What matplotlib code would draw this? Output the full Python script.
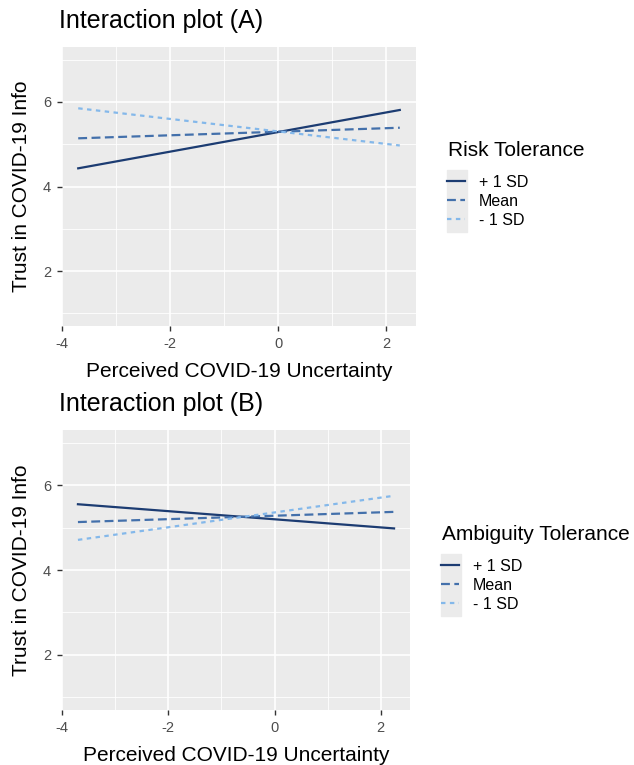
import numpy as np
import matplotlib
matplotlib.use("Agg")
import matplotlib.pyplot as plt
import matplotlib.ticker as tck
from matplotlib.patches import Rectangle

plt.rcParams["font.family"] = ["Liberation Sans", "DejaVu Sans"]
plt.rcParams["axes.unicode_minus"] = False

# endpoints of the fitted simple slopes
X_RANGE = [-3.7, 2.25]
LEVELS = ["+ 1 SD", "Mean", "- 1 SD"]
RISK_Y = {
    "+ 1 SD": [4.43, 5.81],
    "Mean": [5.14, 5.39],
    "- 1 SD": [5.85, 4.97],
}
AMBIG_Y = {
    "+ 1 SD": [5.55, 4.98],
    "Mean": [5.13, 5.37],
    "- 1 SD": [4.71, 5.75],
}
X_TICKS = [-4, -2, 0, 2]
Y_TICKS = [2, 4, 6]

COLORS = {"+ 1 SD": "#1c3c72", "Mean": "#4370ab", "- 1 SD": "#84b8ea"}
STYLES = {"+ 1 SD": "-", "Mean": (0, (4, 2)), "- 1 SD": (0, (2, 2))}

W, H = 634, 765


def px(x0, y0, x1, y1):
    # pixel box (top-left origin) -> figure fraction rect
    return [x0 / W, 1 - y1 / H, (x1 - x0) / W, (y1 - y0) / H]


def panel(fig, rect, data, title, title_y, legend_title, leg_x, leg_y):
    ax = fig.add_axes(rect)
    ax.set_facecolor("#ebebeb")
    for lev in LEVELS:
        ax.plot(X_RANGE, data[lev], color=COLORS[lev], linestyle=STYLES[lev],
                linewidth=1.6, label=lev)

    ax.set_xlim(-4.0, 2.55)
    ax.set_ylim(0.7, 7.3)
    ax.xaxis.set_major_locator(tck.FixedLocator(X_TICKS))
    ax.yaxis.set_major_locator(tck.FixedLocator(Y_TICKS))
    ax.xaxis.set_minor_locator(tck.FixedLocator([-3, -1, 1]))
    ax.yaxis.set_minor_locator(tck.FixedLocator([1, 3, 5, 7]))
    ax.grid(which="major", color="white", linewidth=1.2)
    ax.grid(which="minor", color="white", linewidth=0.6)
    ax.set_axisbelow(True)
    for s in ax.spines.values():
        s.set_visible(False)
    ax.tick_params(which="major", length=3.8, width=1, color="#333333",
                   labelsize=10.5, labelcolor="#4d4d4d", pad=4)
    ax.tick_params(which="minor", length=0)

    ax.set_xlabel("Perceived COVID-19 Uncertainty", fontsize=15, labelpad=8)
    ax.set_ylabel("Trust in COVID-19 Info", fontsize=15, labelpad=9)

    fig.text(59 / W, 1 - title_y / H, title, fontsize=18, va="center", ha="left")

    # legend: title as text, keys on a grey strip
    fig.text(leg_x / W, 1 - leg_y / H, legend_title, fontsize=15,
             va="center", ha="left")
    key_x = leg_x - 1
    fig.patches.append(Rectangle((key_x / W, 1 - (leg_y + 81) / H), 20 / W, 62 / H,
                                 transform=fig.transFigure, color="#ebebeb",
                                 zorder=-1))
    ax.legend(loc="upper left",
              bbox_to_anchor=(key_x / W, 1 - (leg_y + 24) / H),
              bbox_transform=fig.transFigure, frameon=False, fontsize=11.5,
              handlelength=1.1, handletextpad=0.9, labelspacing=0.25,
              borderpad=0, borderaxespad=0)
    return ax


fig = plt.figure(figsize=(W / 100, H / 100), dpi=100)

panel(fig, px(62, 47, 416, 326), RISK_Y, "Interaction plot (A)", 21,
      "Risk Tolerance", 448, 151)
panel(fig, px(62, 430, 410, 710), AMBIG_Y, "Interaction plot (B)", 404,
      "Ambiguity Tolerance", 442, 535)

fig.savefig("out.png", dpi=100)
